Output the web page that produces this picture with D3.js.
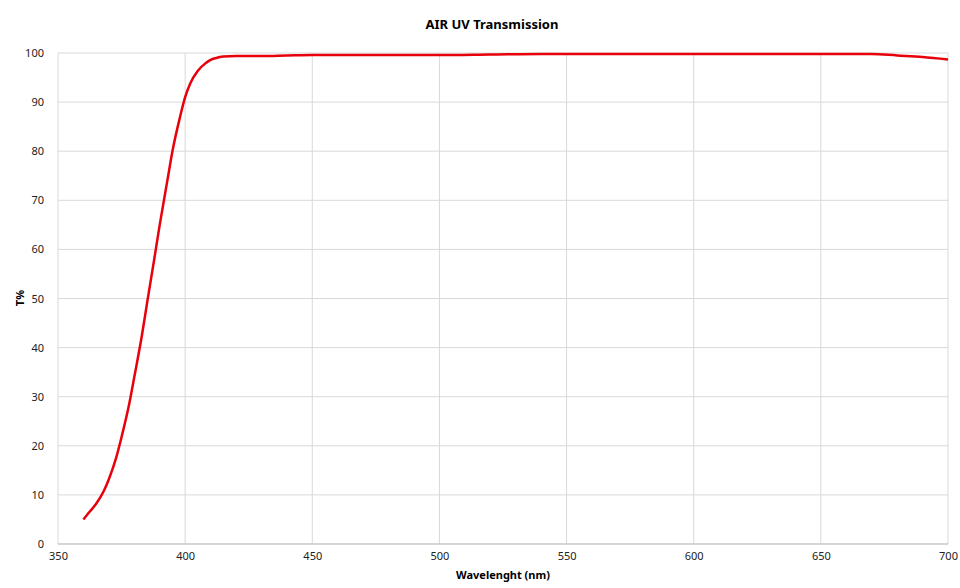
<!DOCTYPE html>
<html>
<head>
<meta charset="utf-8">
<script src="https://cdn.jsdelivr.net/npm/d3@7"></script>
<style>
body { margin: 0; background: #fff; }
text { font-family: "Noto Sans", "Open Sans", sans-serif; }
</style>
</head>
<body>
<div class="chart"></div>
<script>
"use strict";
const wavelength = [360, 362, 365, 368, 370, 373, 375, 378, 380, 383, 385, 388, 390, 393, 395, 398, 400, 402, 405, 408, 410, 413, 415, 420, 430, 440, 450, 460, 470, 480, 490, 500, 520, 540, 560, 580, 600, 620, 640, 660, 670, 680, 690, 700];
const transmission = [5, 6.3, 8.2, 10.8, 13.2, 17.8, 21.8, 28.5, 34, 42.5, 49, 58.5, 65, 74, 80, 87, 91, 93.8, 96.4, 97.9, 98.6, 99.1, 99.3, 99.4, 99.4, 99.5, 99.6, 99.6, 99.6, 99.6, 99.6, 99.6, 99.7, 99.8, 99.8, 99.8, 99.8, 99.8, 99.8, 99.8, 99.8, 99.5, 99.2, 98.7];
const xTicks = [350, 400, 450, 500, 550, 600, 650, 700];
const yTicks = [0, 10, 20, 30, 40, 50, 60, 70, 80, 90, 100];

const margin = {top: 53, right: 12, bottom: 44, left: 58};
const W = 960, H = 588;
const width = W - margin.left - margin.right;
const height = H - margin.top - margin.bottom;

const svg = d3.select(".chart").append("svg")
    .attr("width", W).attr("height", H);
const g = svg.append("g")
    .attr("transform", "translate(" + margin.left + "," + margin.top + ")");

const x = d3.scaleLinear().domain([350, 700]).range([0, width]);
const y = d3.scaleLinear().domain([0, 100]).range([height, 0]);

// grid
g.selectAll(".gx").data(xTicks).enter().append("line")
    .attr("x1", d => x(d)).attr("x2", d => x(d))
    .attr("y1", 0).attr("y2", height)
    .style("stroke", "#d9d9d9").style("stroke-width", 1);
g.selectAll(".gy").data(yTicks).enter().append("line")
    .attr("x1", 0).attr("x2", width)
    .attr("y1", d => y(d)).attr("y2", d => y(d))
    .style("stroke", "#d9d9d9").style("stroke-width", 1);

const xAxis = g.append("g")
    .attr("transform", "translate(0," + height + ")")
    .call(d3.axisBottom(x).tickValues(xTicks).tickSize(0).tickPadding(8));
const yAxis = g.append("g")
    .call(d3.axisLeft(y).tickValues(yTicks).tickSize(0).tickPadding(14));
[xAxis, yAxis].forEach(a => {
    a.select(".domain").remove();
    a.selectAll("text").style("font-size", "11px").style("fill", "#222")
        .style("font-family", "'Noto Sans', sans-serif");
});
g.append("line").attr("x1", 0).attr("x2", width)
    .attr("y1", height).attr("y2", height)
    .style("stroke", "#bfbfbf");

const line = d3.line()
    .x((d, i) => x(wavelength[i]))
    .y(d => y(d))
    .curve(d3.curveMonotoneX);
g.append("path")
    .attr("d", line(transmission))
    .style("fill", "none")
    .style("stroke", "#e8000b")
    .style("stroke-width", 2.5);

svg.append("text").attr("x", 492).attr("y", 29)
    .attr("text-anchor", "middle")
    .style("font-size", "13px").style("font-weight", "bold")
    .text("AIR UV  Transmission");
svg.append("text").attr("x", 503).attr("y", 579)
    .attr("text-anchor", "middle")
    .style("font-size", "11px").style("font-weight", "bold")
    .text("Wavelenght  (nm)");
svg.append("text")
    .attr("transform", "translate(24,298) rotate(-90)")
    .attr("text-anchor", "middle")
    .style("font-size", "11px").style("font-weight", "bold")
    .text("T%");
</script>
</body>
</html>
